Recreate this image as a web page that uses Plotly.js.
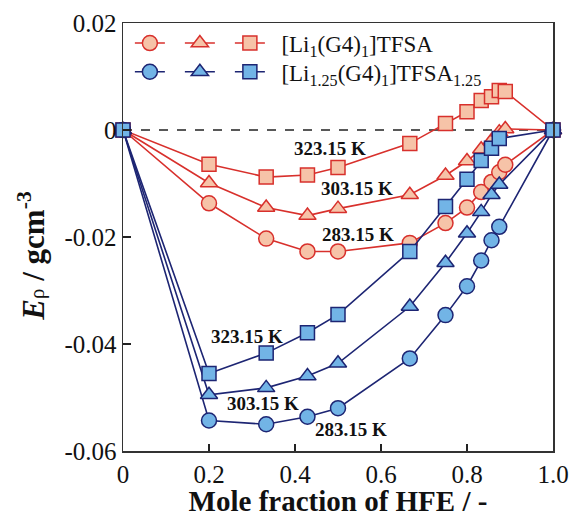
<!DOCTYPE html>
<html>
<head>
<meta charset="utf-8">
<script src="https://cdn.plot.ly/plotly-3.0.1.min.js"></script>
<style>html,body{margin:0;padding:0;background:#fff;}#chart{width:569px;height:517px;}</style>
</head>
<body>
<div id="chart"></div>
<script>
// Mole fraction of HFE
const xRed  = [0, 0.2, 0.333, 0.429, 0.5, 0.667, 0.75, 0.8, 0.833, 0.857, 0.875, 0.889, 1.0];
const xBlue = [0, 0.2, 0.333, 0.429, 0.5, 0.667, 0.75, 0.8, 0.833, 0.857, 0.875, 1.0];

// [Li1(G4)1]TFSA
const red283 = [0, -0.0137, -0.0203, -0.0227, -0.0227, -0.0211, -0.0174, -0.0145, -0.0116, -0.0097, -0.0079, -0.0065, 0];
const red303 = [0, -0.0099, -0.0145, -0.0160, -0.0147, -0.0121, -0.0085, -0.0058, -0.0036, -0.0020, -0.0004, 0.0002, 0];
const red323 = [0, -0.0064, -0.0088, -0.0084, -0.0070, -0.0025, 0.0012, 0.0034, 0.0055, 0.0062, 0.0074, 0.0072, 0];

// [Li1.25(G4)1]TFSA1.25
const blue283 = [0, -0.0543, -0.0550, -0.0536, -0.0520, -0.0427, -0.0346, -0.0292, -0.0244, -0.0206, -0.0181, 0];
const blue303 = [0, -0.0495, -0.0482, -0.0460, -0.0436, -0.0330, -0.0248, -0.0193, -0.0153, -0.0121, -0.0102, 0];
const blue323 = [0, -0.0455, -0.0417, -0.0379, -0.0345, -0.0227, -0.0143, -0.0092, -0.0057, -0.0034, -0.0016, 0];

const legendRed = "\u00a0\u00a0[Li<sub>1</sub>(G4)<sub>1</sub>]TFSA";
const legendBlue = "\u00a0\u00a0[Li<sub>1.25</sub>(G4)<sub>1</sub>]TFSA<sub>1.25</sub>";

const tempLabels = ["283.15 K", "303.15 K", "323.15 K"];
const xTickVals = [0, 0.2, 0.4, 0.6, 0.8, 1.0];
const xTickText = ["0", "0.2", "0.4", "0.6", "0.8", "1.0"];
const yTickVals = [0.02, 0, -0.02, -0.04, -0.06];
const yTickText = ["0.02", "0", "-0.02", "-0.04", "-0.06"];

const RED = "#d8302c", RED_FILL = "#f6c3a8";
const BLUE = "#1d2573", BLUE_FILL = "#72b4e6";
const FONT = "Liberation Serif, Times New Roman, serif";

function tr(x, y, color, fill, symbol, size, legend, name, lw) {
  return {
    x: x, y: y, type: "scatter", mode: "lines+markers", cliponaxis: false,
    line: {color: color, width: 1.6},
    marker: {symbol: symbol, size: size, color: fill, line: {color: color, width: 1.5}},
    name: name, legend: legend, showlegend: true, legendwidth: lw, hoverinfo: "skip"
  };
}

const data = [
  tr(xRed, red283, RED, RED_FILL, "circle", 15, "legend", "", 5),
  tr(xRed, red303, RED, RED_FILL, "triangle-up", 15, "legend", "", 5),
  tr(xRed, red323, RED, RED_FILL, "square", 14, "legend", legendRed, 0),
  tr(xBlue, blue283, BLUE, BLUE_FILL, "circle", 15, "legend2", "", 5),
  tr(xBlue, blue303, BLUE, BLUE_FILL, "triangle-up", 15, "legend2", "", 5),
  tr(xBlue, blue323, BLUE, BLUE_FILL, "square", 14, "legend2", legendBlue, 0)
];

function ann(x, y, text) {
  return {x: x, y: y, text: "<b>" + text + "</b>", showarrow: false,
          font: {family: FONT, size: 19, color: "#111"}, xanchor: "center", yanchor: "middle"};
}

const layout = {
  width: 569, height: 517,
  margin: {l: 123, r: 16, t: 23, b: 66},
  paper_bgcolor: "#fff", plot_bgcolor: "#fff",
  font: {family: FONT, color: "#111"},
  xaxis: {
    range: [0, 1], tickvals: xTickVals, ticktext: xTickText,
    ticks: "inside", ticklen: 7, tickwidth: 1.2, tickcolor: "#222",
    showline: true, linecolor: "#333", linewidth: 1.5, mirror: true,
    showgrid: false, zeroline: false,
    tickfont: {family: FONT, size: 25, color: "#111"},
    title: {text: "<b>Mole fraction of HFE / -</b>", font: {family: FONT, size: 29, color: "#111"}, standoff: 2}
  },
  yaxis: {
    range: [-0.06, 0.02], tickvals: yTickVals, ticktext: yTickText,
    ticks: "inside", ticklen: 8, tickwidth: 1.2, tickcolor: "#222",
    showline: true, linecolor: "#333", linewidth: 1.5, mirror: true,
    showgrid: false, zeroline: false,
    tickfont: {family: FONT, size: 25, color: "#111"}
  },
  shapes: [{type: "line", xref: "x", yref: "y", x0: 0, x1: 1, y0: 0, y1: 0,
            line: {color: "#222", width: 1.5, dash: "dash"}, layer: "below"}],
  annotations: [
    ann(0.481, -0.0034, tempLabels[2]),
    ann(0.544, -0.0109, tempLabels[1]),
    ann(0.547, -0.0196, tempLabels[0]),
    ann(0.288, -0.0386, tempLabels[2]),
    ann(0.326, -0.0512, tempLabels[1]),
    ann(0.530, -0.0560, tempLabels[0]),
    {xref: "paper", yref: "paper", x: -0.212, y: 0.456, xanchor: "center", yanchor: "middle",
     textangle: -90, showarrow: false,
     text: "<b><i>E</i></b><span style='font-size:21px'>ρ</span><b> / gcm<sup>-3</sup></b>",
     font: {family: FONT, size: 31, color: "#111"}}
  ],
  legend: {orientation: "h", x: 0.016, xanchor: "left", y: 0.953, yanchor: "middle",
           bgcolor: "rgba(0,0,0,0)", font: {family: FONT, size: 23, color: "#111"}},
  legend2: {orientation: "h", x: 0.016, xanchor: "left", y: 0.886, yanchor: "middle",
           bgcolor: "rgba(0,0,0,0)", font: {family: FONT, size: 23, color: "#111"}},
  showlegend: true
};

Plotly.newPlot("chart", data, layout, {displayModeBar: false, staticPlot: true});
</script>
</body>
</html>
